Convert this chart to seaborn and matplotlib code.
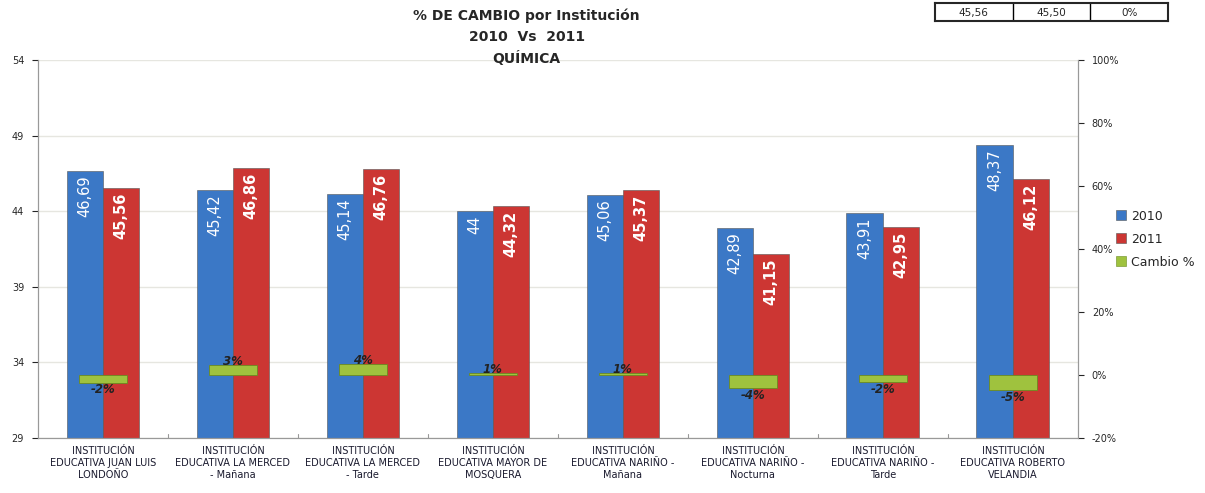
import numpy as np
import pandas as pd
import matplotlib
matplotlib.use("Agg")
import matplotlib.pyplot as plt
import seaborn as sns
from matplotlib.patches import Patch

instituciones = [
    "INSTITUCIÓN\nEDUCATIVA JUAN LUIS\nLONDOÑO",
    "INSTITUCIÓN\nEDUCATIVA LA MERCED\n- Mañana",
    "INSTITUCIÓN\nEDUCATIVA LA MERCED\n- Tarde",
    "INSTITUCIÓN\nEDUCATIVA MAYOR DE\nMOSQUERA",
    "INSTITUCIÓN\nEDUCATIVA NARIÑO -\nMañana",
    "INSTITUCIÓN\nEDUCATIVA NARIÑO -\nNocturna",
    "INSTITUCIÓN\nEDUCATIVA NARIÑO -\nTarde",
    "INSTITUCIÓN\nEDUCATIVA ROBERTO\nVELANDIA",
]
v2010 = [46.69, 45.42, 45.14, 44.00, 45.06, 42.89, 43.91, 48.37]
v2011 = [45.56, 46.86, 46.76, 44.32, 45.37, 41.15, 42.95, 46.12]
lbl2010 = ["46,69", "45,42", "45,14", "44", "45,06", "42,89", "43,91", "48,37"]
lbl2011 = ["45,56", "46,86", "46,76", "44,32", "45,37", "41,15", "42,95", "46,12"]
cambio = [-2.4, 3.2, 3.6, 0.7, 0.7, -4.1, -2.2, -4.7]
cambio_lbl = ["-2%", "3%", "4%", "1%", "1%", "-4%", "-2%", "-5%"]

df = pd.DataFrame({
    "inst": instituciones * 2,
    "anio": ["2010"] * 8 + ["2011"] * 8,
    "valor": v2010 + v2011,
})

blue = "#3B78C6"
red = "#CC3633"
green = "#9FC23E"

sns.set_style("white")
plt.rcParams["font.family"] = ["DejaVu Sans"]

fig = plt.figure(figsize=(12.05, 4.93), dpi=100)
ax = fig.add_axes([0.0315, 0.1116, 0.863, 0.7667])

sns.barplot(data=df, x="inst", y="valor", hue="anio", palette=[blue, red],
            width=0.56, saturation=1, ax=ax, edgecolor="#555555", linewidth=0.4,
            legend=False)
ax.set_ylim(29, 54)
ax.set_yticks(range(29, 55, 5))
ax.set_xlim(-0.5, 7.5)
ax.set_xlabel("")
ax.set_ylabel("")
ax.yaxis.grid(True, color="#e6e6e0", linewidth=1)
ax.set_axisbelow(True)
ax.tick_params(axis="y", labelsize=7, length=4, direction="out", left=True, pad=6)
ax.tick_params(axis="x", labelsize=7, length=0, pad=6)
ax.set_xticks(range(8))
ax.set_xticklabels(instituciones, color="#1a1a2e")
for s in ["left", "bottom", "right"]:
    ax.spines[s].set_color("#999999")
ax.spines["top"].set_visible(False)
# group separators on x axis
for b in np.arange(0.5, 7.5, 1.0):
    ax.plot([b, b], [29, 29.25], color="#999999", lw=0.8, clip_on=False)

for i in range(8):
    ax.text(i - 0.14, v2010[i] - 0.3, lbl2010[i], rotation=90, ha="center", va="top",
            color="white", fontsize=10.5)
    ax.text(i + 0.14, v2011[i] - 0.3, lbl2011[i], rotation=90, ha="center", va="top",
            color="white", fontsize=10.5, fontweight="bold")

ax2 = ax.twinx()
ax2.bar(range(8), cambio, width=0.37, color=green, edgecolor="#6b8a1f", linewidth=0.6)
ax2.set_ylim(-20, 100)
ax2.set_yticks(range(-20, 101, 20))
ax2.set_yticklabels([f"{t}%" for t in range(-20, 101, 20)])
ax2.tick_params(axis="y", labelsize=7, length=4, direction="out", right=True, pad=6)
for s in ["left", "bottom", "right"]:
    ax2.spines[s].set_color("#999999")
ax2.spines["top"].set_visible(False)
for i in range(8):
    if cambio[i] < 0:
        ax2.text(i, cambio[i] - 0.3, cambio_lbl[i], ha="center", va="top",
                 fontsize=8.5, style="italic", fontweight="bold", color="#222222")
    else:
        ax2.text(i, cambio[i] - 1.0, cambio_lbl[i], ha="center", va="bottom",
                 fontsize=8.5, style="italic", fontweight="bold", color="#222222")

fig.text(0.437, 0.968, "% DE CAMBIO por Institución", ha="center", va="center",
         fontsize=10, fontweight="bold")
fig.text(0.437, 0.925, "2010  Vs  2011", ha="center", va="center",
         fontsize=10, fontweight="bold")
fig.text(0.437, 0.882, "QUÍMICA", ha="center", va="center",
         fontsize=10, fontweight="bold")

# small table top right
tab = fig.add_axes([935 / 1205, 1 - 21 / 493, 233 / 1205, 18 / 493])
tab.set_xlim(0, 3)
tab.set_ylim(0, 1)
for v in [1, 2]:
    tab.axvline(v, color="black", lw=1)
for s in tab.spines.values():
    s.set_linewidth(1.5)
tab.set_xticks([])
tab.set_yticks([])
for j, t in enumerate(["45,56", "45,50", "0%"]):
    tab.text(j + 0.5, 0.45, t, ha="center", va="center", fontsize=7.5)

handles = [Patch(facecolor=blue, edgecolor="#555555", lw=0.4),
           Patch(facecolor=red, edgecolor="#555555", lw=0.4),
           Patch(facecolor=green, edgecolor="#6b8a1f", lw=0.4)]
fig.legend(handles, ["2010", "2011", "Cambio %"], loc="upper left",
           bbox_to_anchor=(0.922, 0.585), frameon=False, fontsize=9,
           handlelength=0.8, handleheight=0.8, handletextpad=0.4, labelspacing=0.8,
           borderaxespad=0)

fig.savefig("out.png", dpi=100)
